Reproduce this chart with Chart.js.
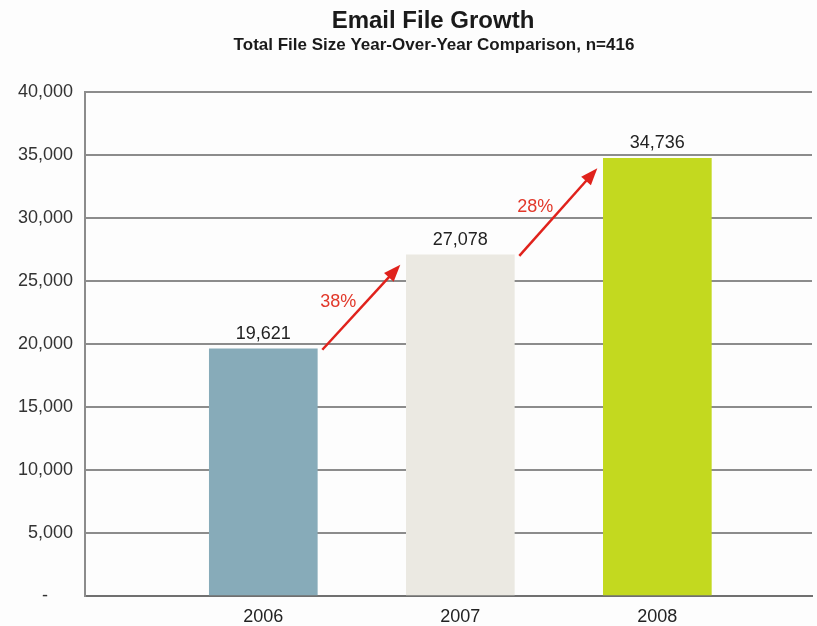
<!DOCTYPE html>
<html>
<head>
<meta charset="utf-8">
<title>Email File Growth</title>
<script src="https://cdn.jsdelivr.net/npm/chart.js@4/dist/chart.umd.min.js"></script>
<style>
  body { margin: 0; background: #fdfdfd; }
  canvas { display: block; }
</style>
</head>
<body>
<canvas id="myChart" width="817" height="626"></canvas>
<script>
// 年ごとの合計ファイルサイズ
var years = ['2006', '2007', '2008'];
var fileSizes = [19621, 27078, 34736];
var barColors = ['#87abb9', '#ebe9e2', '#c3d91f'];
var yTicks = [0, 5000, 10000, 15000, 20000, 25000, 30000, 35000, 40000];

var FONT = 'Arial, "Liberation Sans", sans-serif';

// タイトル（少し右寄せ）
var headerText = {
  id: 'headerText',
  afterDraw: function(chart) {
    var ctx = chart.ctx;
    ctx.save();
    ctx.fillStyle = '#1a1a1a';
    ctx.textAlign = 'center';
    ctx.textBaseline = 'middle';
    ctx.font = 'bold 24px ' + FONT;
    ctx.fillText('Email File Growth', 433, 21);
    ctx.font = 'bold 17px ' + FONT;
    ctx.fillText('Total File Size Year-Over-Year Comparison, n=416', 434, 45);
    ctx.restore();
  }
};

// 棒の上の数値と前年比の矢印
var growthArrows = {
  id: 'growthArrows',
  afterDatasetsDraw: function(chart) {
    var ctx = chart.ctx;
    var meta = chart.getDatasetMeta(0);
    var yScale = chart.scales.y;

    ctx.save();
    ctx.font = '18px ' + FONT;
    ctx.fillStyle = '#222';
    ctx.textAlign = 'center';
    ctx.textBaseline = 'bottom';
    meta.data.forEach(function(bar, i) {
      ctx.fillText(fileSizes[i].toLocaleString('en-US'), bar.x, bar.y - 6);
    });

    for (var i = 0; i < fileSizes.length - 1; i++) {
      var a = meta.data[i], b = meta.data[i + 1];
      var x1 = a.x + a.width / 2 + 5;
      var y1 = yScale.getPixelForValue(fileSizes[i]) + 1;
      var x2 = b.x - b.width / 2 - 6;
      var y2 = yScale.getPixelForValue(fileSizes[i + 1]) + 10;
      var ang = Math.atan2(y2 - y1, x2 - x1);

      ctx.strokeStyle = '#e0221c';
      ctx.fillStyle = '#e0221c';
      ctx.lineWidth = 2.5;
      ctx.beginPath();
      ctx.moveTo(x1, y1);
      ctx.lineTo(x2 - 10 * Math.cos(ang), y2 - 10 * Math.sin(ang));
      ctx.stroke();

      // 矢じり
      ctx.beginPath();
      ctx.moveTo(x2, y2);
      ctx.lineTo(x2 - 17 * Math.cos(ang) + 6.5 * Math.sin(ang), y2 - 17 * Math.sin(ang) - 6.5 * Math.cos(ang));
      ctx.lineTo(x2 - 17 * Math.cos(ang) - 6.5 * Math.sin(ang), y2 - 17 * Math.sin(ang) + 6.5 * Math.cos(ang));
      ctx.closePath();
      ctx.fill();

      var pct = Math.round((fileSizes[i + 1] - fileSizes[i]) / fileSizes[i] * 100);
      ctx.fillStyle = '#e2382a';
      ctx.textBaseline = 'middle';
      ctx.fillText(pct + '%', (x1 + x2) / 2 - 23, (y1 + y2) / 2 - 5);
      ctx.textBaseline = 'bottom';
    }
    ctx.restore();
  }
};

var ctx = document.getElementById('myChart').getContext('2d');
var myBarChart = new Chart(ctx, {
  type: 'bar',
  data: {
    datasets: [{
      label: 'Total File Size',
      data: fileSizes.map(function(v, i) { return { x: i, y: v }; }),
      backgroundColor: barColors,
      borderWidth: 0,
      barThickness: 108
    }]
  },
  options: {
    responsive: false,
    animation: false,
    layout: { padding: { top: 92, right: 5, left: 0, bottom: 0 } },
    plugins: {
      legend: { display: false },
      tooltip: { enabled: false }
    },
    scales: {
      x: {
        type: 'linear',
        min: -0.905,
        max: 2.785,
        offset: false,
        afterBuildTicks: function(scale) {
          scale.ticks = years.map(function(y, i) { return { value: i }; });
        },
        afterFit: function(scale) { scale.height = 30; },
        ticks: {
          color: '#222',
          font: { family: FONT, size: 18 },
          padding: 2,
          callback: function(v) { return years[v]; }
        },
        grid: { display: false },
        border: { display: true, color: '#707070', width: 2 }
      },
      y: {
        min: 0,
        max: 40000,
        afterBuildTicks: function(scale) {
          scale.ticks = yTicks.map(function(v) { return { value: v }; });
        },
        afterFit: function(scale) { scale.width = 85; },
        ticks: {
          color: '#333',
          font: { family: FONT, size: 18 },
          padding: 12,
          callback: function(v) { return v === 0 ? '-     ' : v.toLocaleString('en-US'); }
        },
        grid: { color: '#8c8c8c', lineWidth: 2, drawTicks: false },
        border: { display: true, color: '#8c8c8c', width: 2 }
      }
    }
  },
  plugins: [headerText, growthArrows]
});
</script>
</body>
</html>
